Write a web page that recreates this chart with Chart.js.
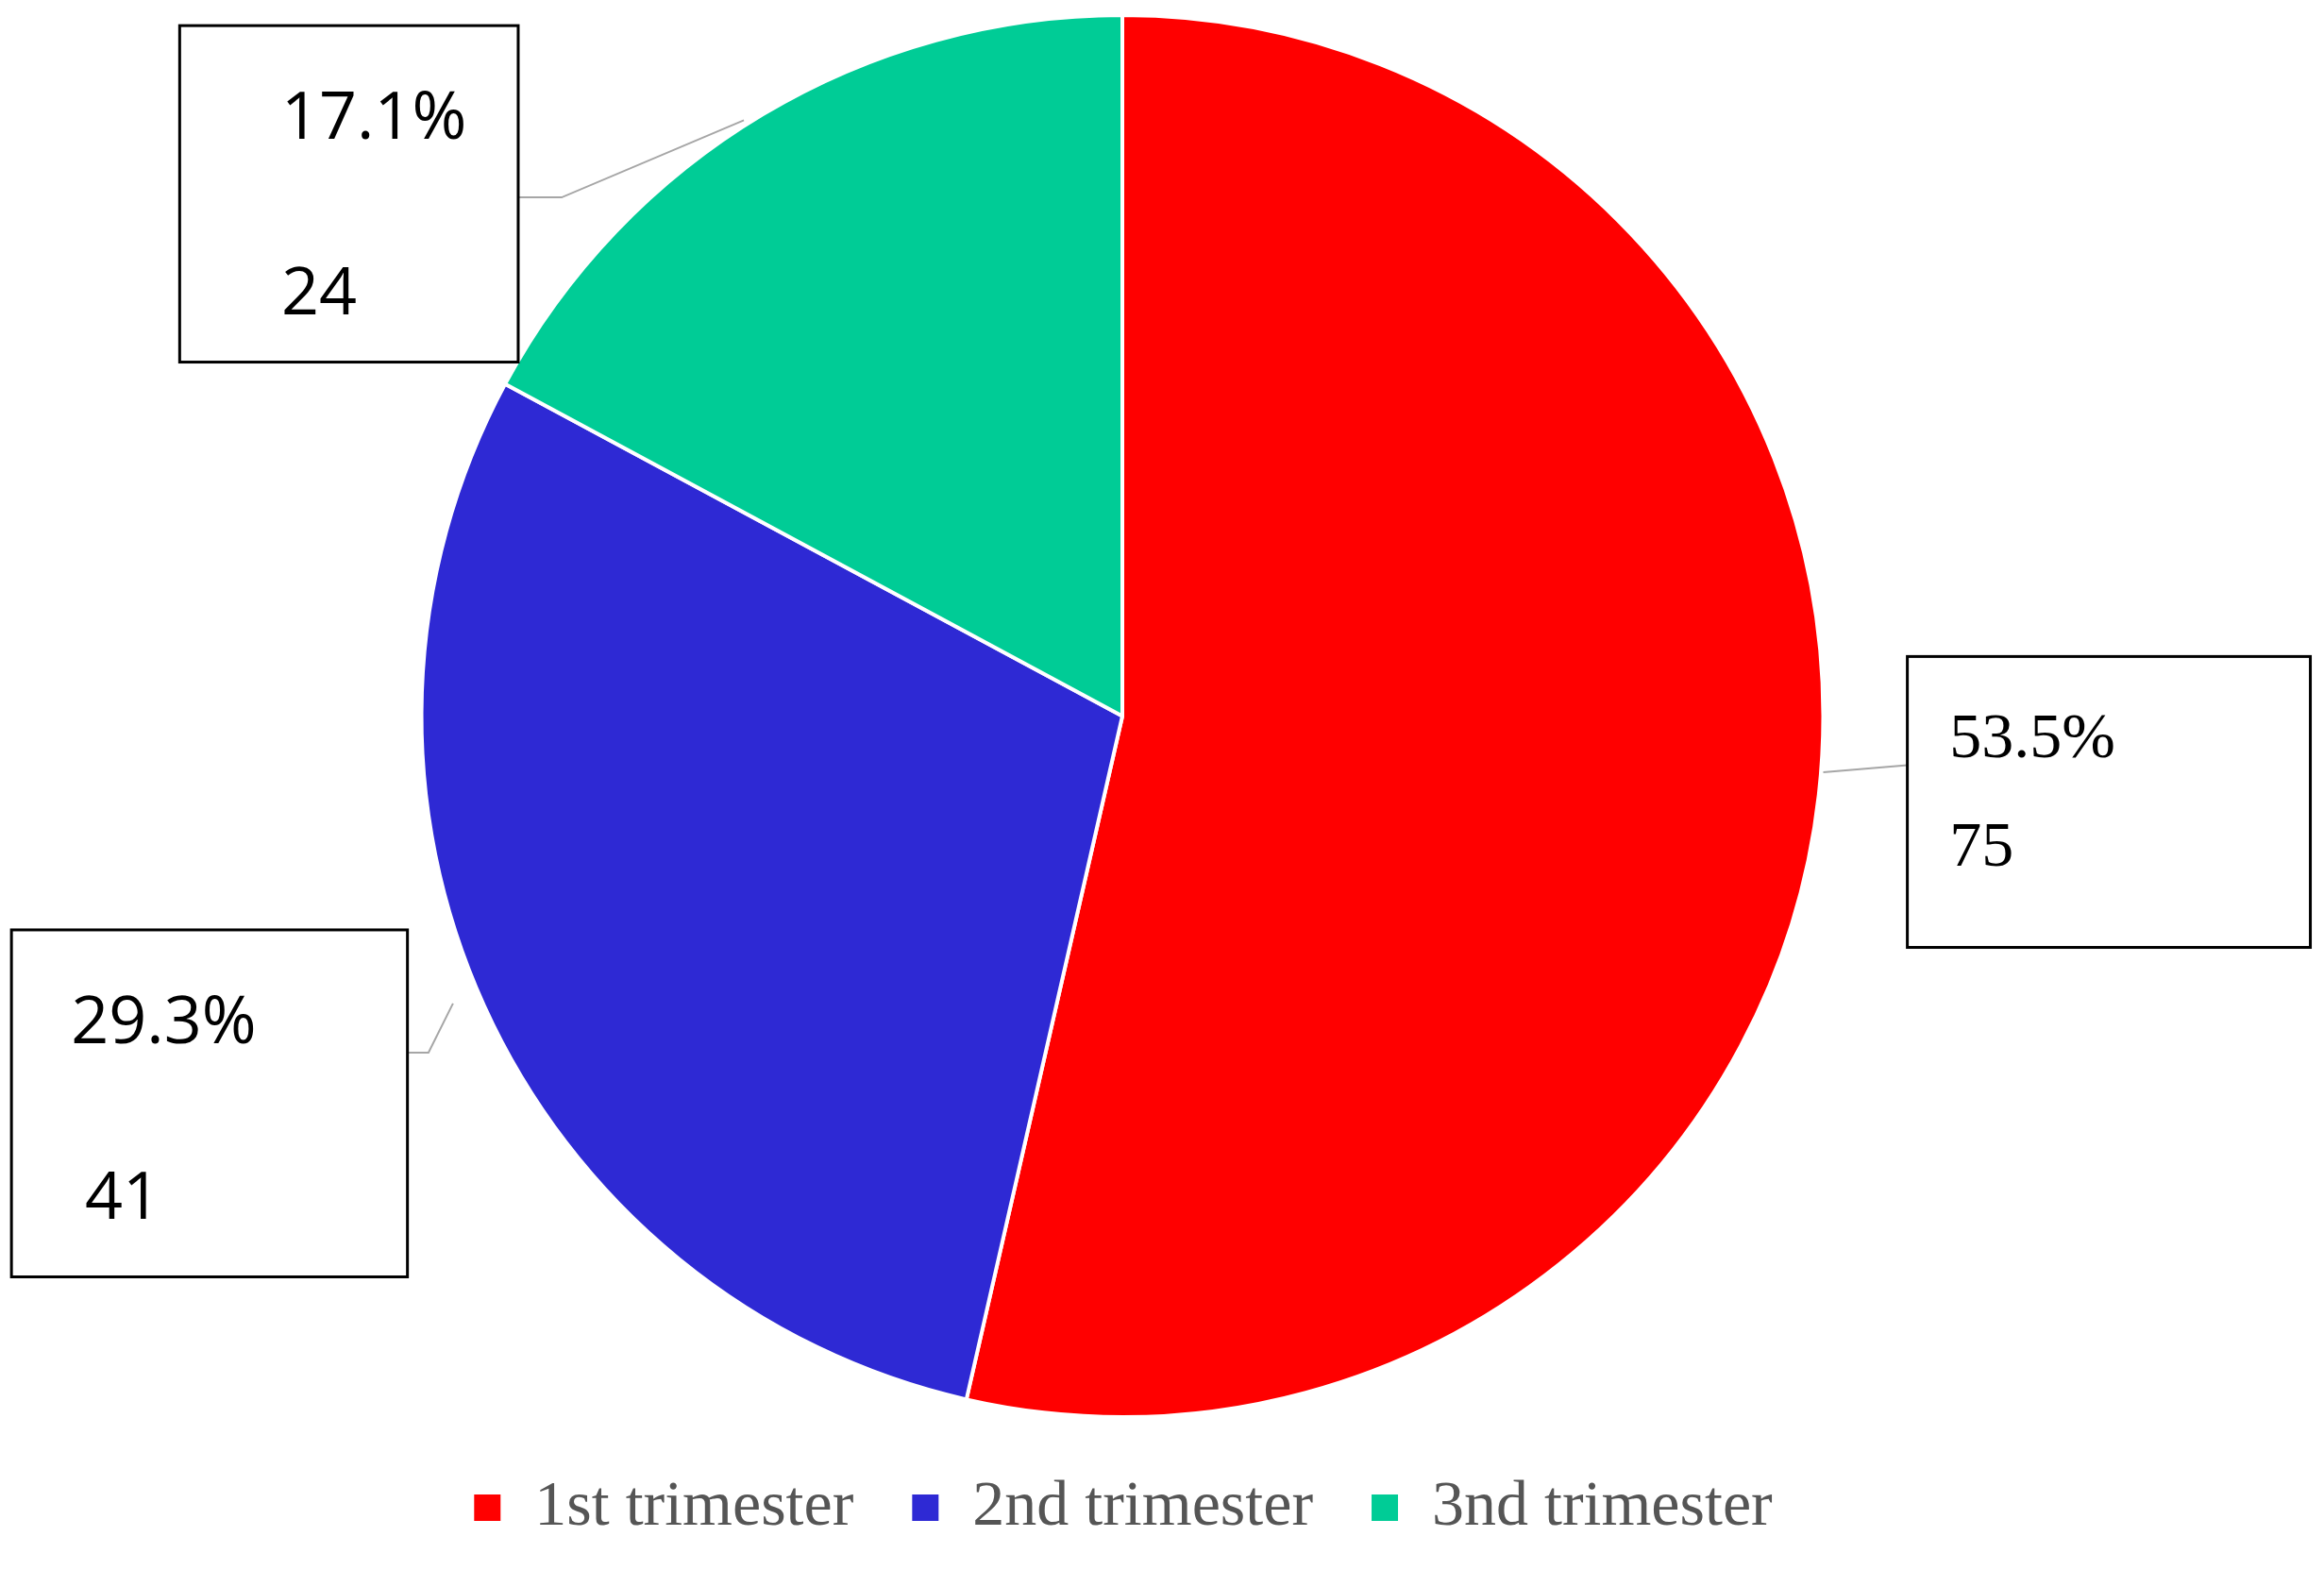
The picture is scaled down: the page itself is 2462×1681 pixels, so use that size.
<!DOCTYPE html>
<html><head><meta charset="utf-8">
<script src="https://cdn.jsdelivr.net/npm/chart.js@4"></script>
<style>html,body{margin:0;background:#fff}#w{width:2462px;height:1681px}</style>
</head><body><div id="w"><canvas id="c"></canvas></div>
<script>
const categories = ['1st trimester', '2nd trimester', '3nd trimester'];
const counts = [75, 41, 24];
const percentLabels = ['53.5%', '29.3%', '17.1%'];
const colors = ['#ff0000', '#2e29d4', '#00cc96'];

// label boxes relative to pie centre (in radii units) : [x0,y0,x1,y1], text offsets, leader
const boxes = [
  {b:[1.12,-0.085,1.695,0.33], t1:[1.18,0.035], t2:[1.18,0.19], l:[[1.12,0.07],[1.0,0.08]], c:[2.0,1]},
  {b:[-1.585,0.305,-1.02,0.80], t1:[-1.5,0.44], t2:[-1.48,0.69], l:[[-1.02,0.48],[-0.99,0.48],[-0.955,0.41]], c:[2.0,1]},
  {b:[-1.345,-0.985,-0.862,-0.505], t1:[-1.2,-0.85], t2:[-1.2,-0.6], l:[[-0.862,-0.74],[-0.8,-0.74],[-0.54,-0.85]], c:[2.0,1]}
];

const boxPlugin = {
  id:'boxes',
  afterDatasetsDraw(chart){
    const ctx = chart.ctx;
    const arc = chart.getDatasetMeta(0).data[0];
    const cx = arc.x, cy = arc.y, r = arc.outerRadius;
    ctx.save();
    boxes.forEach((bx,i)=>{
      ctx.strokeStyle='#a6a6a6'; ctx.lineWidth=2;
      ctx.beginPath();
      bx.l.forEach((p,j)=>{ const X=cx+p[0]*r, Y=cy+p[1]*r; j?ctx.lineTo(X,Y):ctx.moveTo(X,Y); });
      ctx.stroke();
      ctx.fillStyle='#fff'; ctx.strokeStyle='#000'; ctx.lineWidth=3;
      const [x0,y0,x1,y1]=bx.b;
      ctx.fillRect(cx+x0*r, cy+y0*r, (x1-x0)*r, (y1-y0)*r);
      ctx.strokeRect(cx+x0*r, cy+y0*r, (x1-x0)*r, (y1-y0)*r);
      ctx.fillStyle='#000'; ctx.textBaseline='middle'; ctx.textAlign='left';
      ctx.font = (i===0 ? '68px "Liberation Serif"' : '70px "Open Sans"');
      ctx.fillText(percentLabels[i], cx+bx.t1[0]*r, cy+bx.t1[1]*r);
      ctx.fillText(String(counts[i]), cx+bx.t2[0]*r, cy+bx.t2[1]*r);
    });
    ctx.restore();
  }
};

new Chart(document.getElementById('c'), {
  type:'pie',
  data:{labels:categories, datasets:[{data:counts, backgroundColor:colors, borderColor:'#fff', borderWidth:4}]},
  options:{
    responsive:true, maintainAspectRatio:false, animation:false,
    layout:{padding:{top:14,left:0,right:84,bottom:40}},
    plugins:{
      tooltip:{enabled:false},
      legend:{position:'bottom', labels:{font:{family:'Liberation Serif', size:68}, color:'#555', boxWidth:32, boxHeight:32, padding:60}}
    }
  },
  plugins:[boxPlugin]
});
</script></body></html>
